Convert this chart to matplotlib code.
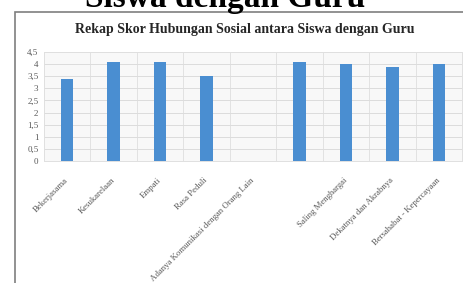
import matplotlib
matplotlib.use('Agg')
import matplotlib.pyplot as plt
from matplotlib.patches import Rectangle
from matplotlib.transforms import ScaledTranslation

# Data
kategori = ['Bekerjasama', 'Kesukarelaan', 'Empati', 'Rasa Peduli',
            'Adanya Komunikasi dengan Orang Lain', '', 'Saling Menghargai',
            'Dekatnya dan Akrabnya', 'Bersahabat - Kepercayaan']
skor = [3.4, 4.1, 4.1, 3.5, 0, 4.1, 4.0, 3.9, 4.0]
yticks = [0, 0.5, 1, 1.5, 2, 2.5, 3, 3.5, 4, 4.5]
ytick_labels = ['0', '0,5', '1', '1,5', '2', '2,5', '3', '3,5', '4', '4,5']

W, H = 463, 283
fig = plt.figure(figsize=(W / 100, H / 100), dpi=100)
serif = 'Liberation Serif'

# heading of the document above the chart (cut off at the top)
fig.text(225 / W, 1 - 7 / H, 'Siswa dengan Guru', family=serif, fontsize=24,
         fontweight='bold', ha='center', va='baseline')

# chart frame
fig.patches.append(Rectangle((15 / W, -0.05), 1.1, 1 - 12 / H + 0.05,
                             transform=fig.transFigure, fill=False,
                             edgecolor='#7f7f7f', linewidth=1.2))

fig.text(245 / W, 1 - 30 / H, 'Rekap Skor Hubungan Sosial antara Siswa dengan Guru',
         family=serif, fontsize=10, fontweight='bold', ha='center', va='center',
         color='#262626')

ax = fig.add_axes([44 / W, 1 - 161 / H, 418 / W, 109 / H])
ax.set_facecolor('#f8f8f8')
x = list(range(len(skor)))
ax.bar(x, skor, width=0.27, color='#4a8ed1', zorder=3)
ax.set_xlim(-0.5, len(skor) - 0.5)
ax.set_ylim(0, 4.5)
ax.set_yticks(yticks)
ax.set_yticklabels(ytick_labels, family=serif, fontsize=6.5, color='#595959')
ax.set_xticks(x)
ax.set_xticklabels(kategori, family=serif, fontsize=6.3, color='#595959',
                   rotation=45, ha='right', va='center', rotation_mode='anchor')
shift = ScaledTranslation(7 / 100, 0, fig.dpi_scale_trans)
for lbl in ax.get_xticklabels():
    lbl.set_transform(lbl.get_transform() + shift)
ax.set_xticks([i + 0.5 for i in x[:-1]], minor=True)
ax.grid(axis='y', color='#dcdcdc', linewidth=0.7, zorder=0)
ax.grid(axis='x', which='minor', color='#e2e2e2', linewidth=0.7, zorder=0)
ax.tick_params(axis='x', length=0, pad=13)
ax.tick_params(axis='y', length=0, pad=4)
ax.tick_params(which='minor', length=0)
for s in ax.spines.values():
    s.set_color('#e0e0e0')
    s.set_linewidth(0.7)

fig.savefig('out.png', dpi=100)
